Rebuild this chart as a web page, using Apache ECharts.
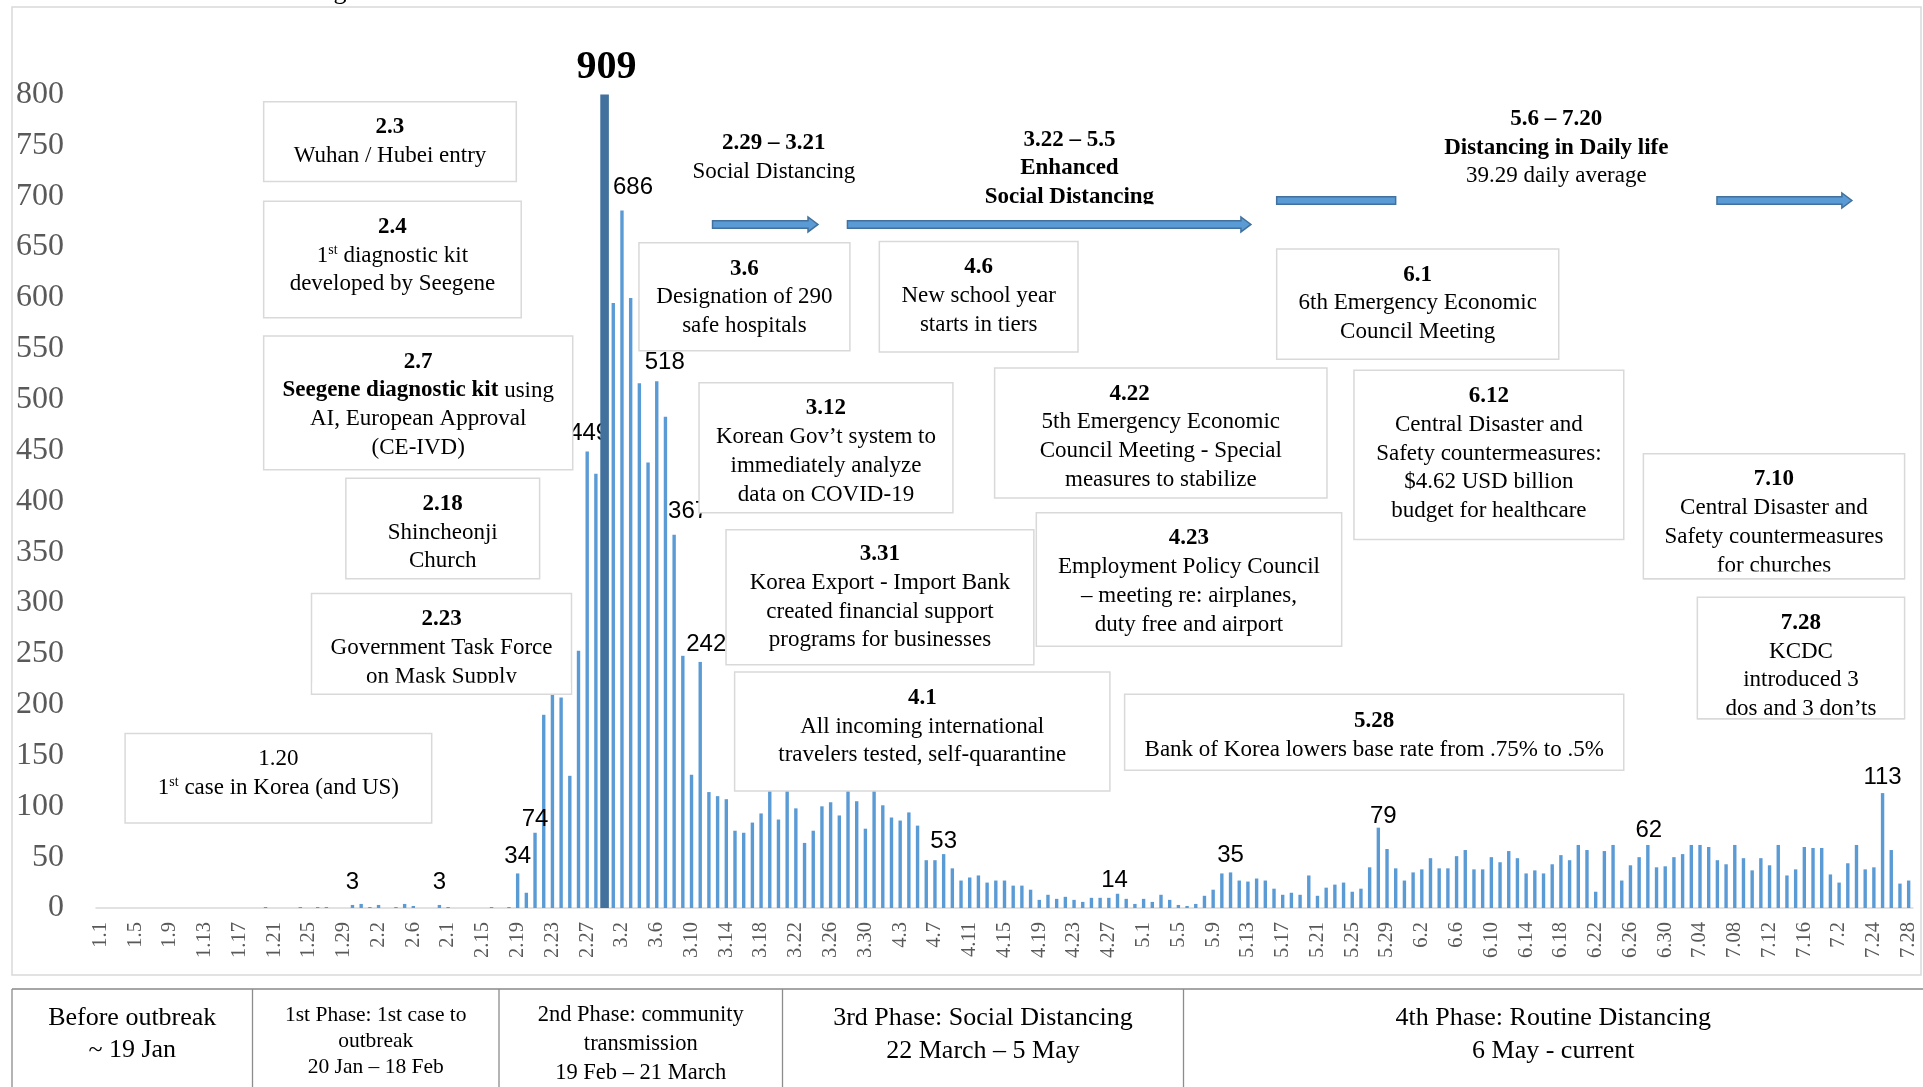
<!DOCTYPE html>
<html><head><meta charset="utf-8">
<script src="https://cdn.jsdelivr.net/npm/echarts@6/dist/echarts.min.js"></script>
<style>html,body{margin:0;padding:0;background:#fff}#c{width:1923px;height:1087px}</style>
</head><body><div id="c"></div>
<script>
// ---------------- DATA ----------------
const monthDays = [[1,31],[2,29],[3,31],[4,30],[5,31],[6,30],[7,28]];
const skippedDates = ['2.14'];
const tickLabels = ['1.1','1.5','1.9','1.13','1.17','1.21','1.25','1.29','2.2','2.6','2.1','2.15','2.19','2.23','2.27',
  '3.2','3.6','3.10','3.14','3.18','3.22','3.26','3.30','4.3','4.7','4.11','4.15','4.19','4.23','4.27',
  '5.1','5.5','5.9','5.13','5.17','5.21','5.25','5.29','6.2','6.6','6.10','6.14','6.18','6.22','6.26','6.30',
  '7.04','7.08','7.12','7.16','7.2','7.24','7.28'];
const casesJan = [0,0,0,0,0,0,0,0,0,0, 0,0,0,0,0,0,0,0,0,1, 0,0,0,1,0,1,1,0,0,3, 4];
const casesFeb = [1,3,0,1,4,2,0,0,3,1,0,0,0, 0,1,0,1,34,15,74,190,210,207,130,253,449,427,909];
const casesMar = [595,686,600,516,438,518,483,367,248,131,242,114,110,107,76,74,84,93,152,87,147,98,64,76,100,104,91,146,105,78,125];
const casesApr = [101,89,86,94,81,47,47,53,39,27,30,32,25,27,27,22,22,18,8,13,9,11,8,6,10,10,10,14,9,4];
const casesMay = [9,6,13,8,3,2,4,12,18,34,35,27,26,29,27,19,13,15,13,32,12,20,23,25,16,19,40,79,58,39,27];
const casesJun = [35,38,49,39,39,51,57,38,38,50,45,56,49,34,37,34,43,52,47,62,57,16,56,62,27,42,50,62,40,41];
const casesJul = [50,53,62,62,60,47,43,62,49,37,49,42,62,32,38,60,59,59,33,25,44,62,38,40,113,57,24,27];
const dailyCases = [].concat(casesJan, casesFeb, casesMar, casesApr, casesMay, casesJun, casesJul);
const peakIndex = 58;
const labeledDays = [29,39,48,50,52,56,60,64,66,69,97,117,130,147,178,205];
const phases = [
  ['Before outbreak', '~ 19 Jan'],
  ['1st Phase: 1st case to', 'outbreak', '20 Jan – 18 Feb'],
  ['2nd Phase: community', 'transmission', '19 Feb – 21 March'],
  ['3rd Phase: Social Distancing', '22 March – 5 May'],
  ['4th Phase: Routine Distancing', '6 May - current']
];

const categories = [];
monthDays.forEach(([m, n]) => { for (let d = 1; d <= n; d++) { const s = m + '.' + d; if (!skippedDates.includes(s)) categories.push(s); } });

// ---------------- STYLE / LAYOUT ----------------
const S = 1.2264; // display -> page px
const serif = 'Liberation Serif';
const labelOffsets = {29:[0,-7],39:[0,-7],48:[0,-1],50:[0,3],52:[0,-4],56:[2,-2],60:[11,-7],64:[8,-3],66:[14,-7],69:[6,-2],
  97:[0,3],117:[-3,3],130:[0,-1],147:[5,5],178:[1,1],205:[0,0]};

const boxes = [
  {r:[215,83,421,148], ty:104, head:'2.3', body:'Wuhan / Hubei entry'},
  {r:[215,164,425,259], ty:185, head:'2.4', body:'1{sup|st} diagnostic kit\ndeveloped by Seegene'},
  {r:[215,274,467,383], ty:295, head:'2.7', body:'{b|Seegene diagnostic kit} using\nAI, European Approval\n(CE-IVD)'},
  {r:[282,390,440,472], ty:411, head:'2.18', body:'Shincheonji\nChurch'},
  {r:[254,484,466,566], ty:505, head:'2.23', body:'Government Task Force\non Mask Supply', clip:2},
  {r:[521,198,693,286], ty:219, head:'3.6', body:'Designation of 290\nsafe hospitals'},
  {r:[717,197,879,287], ty:218, head:'4.6', body:'New school year\nstarts in tiers'},
  {r:[1041,203,1271,293], ty:224, head:'6.1', body:'6th Emergency Economic\nCouncil Meeting'},
  {r:[570,312,777,418], ty:333, head:'3.12', body:'Korean Gov’t system to\nimmediately analyze\ndata on COVID-19'},
  {r:[811,300,1082,406], ty:321, head:'4.22', hx:921, body:'5th Emergency Economic\nCouncil Meeting - Special\nmeasures to stabilize'},
  {r:[1104,302,1324,440], ty:323, head:'6.12', body:'Central Disaster and\nSafety countermeasures:\n$4.62 USD billion\nbudget for healthcare'},
  {r:[1340,370,1553,472], ty:391, head:'7.10', body:'Central Disaster and\nSafety countermeasures\nfor churches', clip:3},
  {r:[592,432,843,542], ty:452, head:'3.31', body:'Korea Export - Import Bank\ncreated financial support\nprograms for businesses'},
  {r:[845,418,1094,527], ty:439, head:'4.23', body:'Employment Policy Council\n– meeting re: airplanes,\nduty free and airport'},
  {r:[1384,487,1553,586], ty:508, head:'7.28', body:'KCDC\nintroduced 3\ndos and 3 don’ts', clip:3},
  {r:[599,548,905,645], ty:569, head:'4.1', body:'All incoming international\ntravelers tested, self-quarantine'},
  {r:[917,566,1324,628], ty:588, head:'5.28', body:'Bank of Korea lowers base rate from .75% to .5%'},
  {r:[102,598,352,671], ty:619, head:'1.20', plainHead:true, body:'1{sup|st} case in Korea (and US)'}
];
const freeTexts = [
  {x:631, y:117, text:'{b|2.29 – 3.21}\nSocial Distancing'},
  {x:872, y:114, text:'{b|3.22 – 5.5}\n{b|Enhanced}\n{b|Social Distancing}', clip:2, cw:150},
  {x:1269, y:97, text:'{b|5.6 – 7.20}\n{b|Distancing in Daily life}\n39.29 daily average'}
];
const arrows = [
  {x1:581, x2:667, y:183, head:true},
  {x1:691, x2:1020, y:183, head:true},
  {x1:1041, x2:1138, y:163.5, head:false},
  {x1:1400, x2:1510, y:163.5, head:true}
];

const LH = 28.7;
const FS = 23;
const rich = {
  b: {fontWeight:'bold', fontFamily:serif, fontSize:FS, lineHeight:LH, fill:'#000'},
  sup: {fontFamily:serif, fontSize:14, lineHeight:LH, verticalAlign:'top', padding:[2,0,0,0], fill:'#000'}
};
const graphics = [];
const Z = 100;
// chart border
graphics.push({type:'rect', shape:{x:12, y:7, width:1909, height:968}, style:{fill:'none', stroke:'#D9D9D9', lineWidth:1.5}, z:1, silent:true});
// cut title fragment
graphics.push({type:'text', x:340, y:5, style:{text:'g', fontFamily:serif, fontSize:26, fill:'#000', align:'center', verticalAlign:'bottom'}, z:1});

boxes.forEach(bx => {
  const [x1,y1,x2,y2] = bx.r.map(v => v*S);
  graphics.push({type:'rect', shape:{x:x1, y:y1, width:x2-x1, height:y2-y1}, style:{fill:'#fff', stroke:'#D9D9D9', lineWidth:1.5}, z:Z});
  const cx = (x1+x2)/2;
  const hy = bx.ty*S;
  graphics.push({type:'text', x: bx.hx ? bx.hx*S : cx, y: hy, style:{text:bx.head, fontFamily:serif, fontSize:FS, fontWeight: bx.plainHead ? 'normal' : 'bold', fill:'#000', align:'center', verticalAlign:'middle'}, z:Z+1});
  graphics.push({type:'text', x:cx, y:hy + LH/2, style:{text:bx.body, fontFamily:serif, fontSize:FS, lineHeight:LH, fill:'#000', align:'center', verticalAlign:'top', rich}, z:Z+1});
  if (bx.clip) {
    const lineC = hy + bx.clip*LH;
    graphics.push({type:'rect', shape:{x:x1+1, y:lineC+6, width:x2-x1-2, height:Math.max(2, y2 - lineC - 6)}, style:{fill:'#fff'}, z:Z+2});
    graphics.push({type:'line', shape:{x1:x1, y1:y2, x2:x2, y2:y2}, style:{stroke:'#D9D9D9', lineWidth:1.5}, z:Z+3});
  }
});
freeTexts.forEach(t => {
  const cx = t.x*S, cy = t.y*S;
  graphics.push({type:'text', x:cx, y:cy - LH/2, style:{text:t.text, fontFamily:serif, fontSize:FS, lineHeight:LH, fill:'#000', align:'center', verticalAlign:'top', rich}, z:Z+1});
  if (t.clip) {
    const lineC = cy + t.clip*LH;
    graphics.push({type:'rect', shape:{x:cx - t.cw*S/2, y:lineC+7, width:t.cw*S, height:10}, style:{fill:'#fff'}, z:Z+2});
  }
});
arrows.forEach(a => {
  const x1 = a.x1*S, x2 = a.x2*S, y = a.y*S, h = 3.8, H = 7.5, L = 10;
  const pts = a.head
    ? [[x1,y-h],[x2-L,y-h],[x2-L,y-H],[x2,y],[x2-L,y+H],[x2-L,y+h],[x1,y+h]]
    : [[x1,y-h],[x2,y-h],[x2,y+h],[x1,y+h]];
  graphics.push({type:'polygon', shape:{points:pts}, style:{fill:'#5B9BD5', stroke:'#41719C', lineWidth:1.5}, z:Z});
});
// phase table
const tableTop = 989, colX = [12, 252.5, 499, 782.5, 1183.5, 1923];
graphics.push({type:'line', shape:{x1:12, y1:tableTop, x2:1923, y2:tableTop}, style:{stroke:'#A6A6A6', lineWidth:2}, z:1});
colX.slice(0,5).forEach(x => graphics.push({type:'line', shape:{x1:x, y1:tableTop, x2:x, y2:1087}, style:{stroke:'#8C8C8C', lineWidth:1.3}, z:1}));
const phaseFont = [[26,32.5,1018],[21.5,26,1015.5],[22.5,28.8,1015.5],[26,33,1018],[26,33,1018]];
phases.forEach((lines, i) => {
  const [fs, lh, y0] = phaseFont[i];
  graphics.push({type:'text', x:(colX[i]+colX[i+1])/2, y:y0 - lh/2, style:{text:lines.join('\n'), fontFamily:serif, fontSize:fs, lineHeight:lh, fill:'#000', align:'center', verticalAlign:'top'}, z:1});
});

// ---------------- CHART ----------------
const chart = echarts.init(document.getElementById('c'), null, {renderer:'canvas'});
const mainData = dailyCases.map((v, i) => {
  if (i === peakIndex) return '-';
  if (labeledDays.includes(i)) return {value:v, label:{show:true, offset:labelOffsets[i] || [0,0]}};
  return v;
});
const peakData = dailyCases.map((v, i) => i === peakIndex ? v : '-');

chart.setOption({
  animation: false,
  backgroundColor: '#fff',
  grid: {left:96, right:10, top:94.5, bottom:179, containLabel:false},
  xAxis: [
    {type:'category', data:categories, boundaryGap:true,
     axisLine:{lineStyle:{color:'#D9D9D9', width:1.5}}, axisTick:{show:false},
     axisLabel:{interval:3, rotate:90, margin:14, fontFamily:serif, fontSize:20.5, color:'#595959',
       formatter:(v, i) => tickLabels[i/4] !== undefined ? tickLabels[i/4] : ''}},
    {type:'category', data:categories, show:false, boundaryGap:true}
  ],
  yAxis: {type:'value', min:0, max:800, interval:50,
    axisLine:{show:false}, axisTick:{show:false}, splitLine:{show:false},
    axisLabel:{margin:32, padding:[5,0,0,0], fontFamily:serif, fontSize:32, color:'#595959'}},
  series: [
    {type:'bar', xAxisIndex:0, data:mainData, barWidth:3.4, itemStyle:{color:'#5B9BD5'},
     label:{show:false, position:'top', distance:4, fontFamily:'Liberation Sans', fontSize:24, color:'#000'}, z:2},
    {type:'bar', xAxisIndex:1, data:peakData, barWidth:8.6, itemStyle:{color:'#41719C'},
     label:{show:true, position:'top', distance:5, offset:[2,-2], fontFamily:serif, fontWeight:'bold', fontSize:40, color:'#000'}, z:3}
  ],
  graphic: {elements: graphics}
});
</script>
</body></html>
